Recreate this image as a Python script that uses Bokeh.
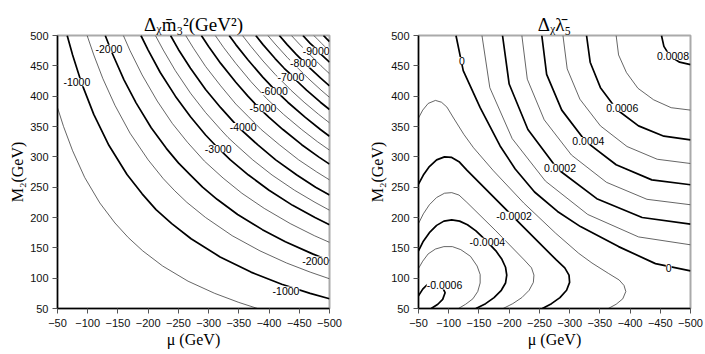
from bokeh.plotting import figure
from bokeh.layouts import row
from bokeh.models import Range1d, FixedTicker, ColumnDataSource
from bokeh.core.properties import value
from bokeh.embed import file_html
from bokeh.resources import INLINE

# ---------------- axes ticks ----------------
mu_ticks = [-50, -100, -150, -200, -250, -300, -350, -400, -450, -500]
m2_ticks = [50, 100, 150, 200, 250, 300, 350, 400, 450, 500]

# ---------------- left panel: contours of Delta_chi m3^2 (GeV^2) ----------------
# levels every -500 GeV^2 ; thick lines at multiples of -1000
m3_0500_mu = [-50, -60, -75, -95, -120, -145, -167, -191, -224, -266, -310, -350, -381]
m3_0500_m2 = [381, 350, 310, 266, 224, 191, 167, 145, 120, 95, 75, 60, 50]
m3_1000_mu = [-66, -75, -90, -110, -135, -165, -190, -213, -239, -271, -319, -370, -421, -468, -500]
m3_1000_m2 = [500, 468, 421, 370, 319, 271, 239, 213, 190, 165, 135, 110, 90, 75, 66]
m3_1500_mu = [-99, -110, -125, -145, -170, -200, -225, -244, -264, -295, -339, -385, -429, -468, -500]
m3_1500_m2 = [500, 468, 429, 385, 339, 295, 264, 244, 225, 200, 170, 145, 125, 110, 99]
m3_2000_mu = [-129, -140, -160, -180, -205, -230, -250, -270, -290, -314, -348, -389, -427, -472, -500]
m3_2000_m2 = [500, 472, 427, 389, 348, 314, 290, 270, 250, 230, 205, 180, 160, 140, 129]
m3_2500_mu = [-159, -170, -190, -215, -240, -265, -293, -324, -355, -392, -435, -475, -500]
m3_2500_m2 = [500, 475, 435, 392, 355, 324, 293, 265, 240, 215, 190, 170, 159]
m3_3000_mu = [-188, -200, -220, -245, -270, -295, -315, -336, -366, -400, -439, -476, -500]
m3_3000_m2 = [500, 476, 439, 400, 366, 336, 315, 295, 270, 245, 220, 200, 188]
m3_3500_mu = [-212, -225, -245, -270, -295, -320, -332, -345, -373, -405, -442, -476, -500]
m3_3500_m2 = [500, 476, 442, 405, 373, 345, 332, 320, 295, 270, 245, 225, 212]
m3_4000_mu = [-237, -250, -270, -295, -320, -349, -381, -411, -446, -477, -500]
m3_4000_m2 = [500, 477, 446, 411, 381, 349, 320, 295, 270, 250, 237]
m3_4500_mu = [-262, -275, -295, -320, -345, -366, -387, -417, -449, -479, -500]
m3_4500_m2 = [500, 479, 449, 417, 387, 366, 345, 320, 295, 275, 262]
m3_5000_mu = [-288, -300, -320, -345, -365, -382, -400, -423, -454, -482, -500]
m3_5000_m2 = [500, 482, 454, 423, 400, 382, 365, 345, 320, 300, 288]
m3_5500_mu = [-311, -325, -345, -370, -396, -424, -454, -480, -500]
m3_5500_m2 = [500, 480, 454, 424, 396, 370, 345, 325, 311]
m3_6000_mu = [-334, -345, -365, -390, -410, -431, -460, -485, -500]
m3_6000_m2 = [500, 485, 460, 431, 410, 390, 365, 345, 334]
m3_6500_mu = [-356, -370, -390, -410, -423, -436, -458, -482, -500]
m3_6500_m2 = [500, 482, 458, 436, 423, 410, 390, 370, 356]
m3_7000_mu = [-378, -390, -410, -425, -436, -446, -462, -485, -500]
m3_7000_m2 = [500, 485, 462, 446, 436, 425, 410, 390, 378]
m3_7500_mu = [-398, -410, -430, -447, -464, -486, -500]
m3_7500_m2 = [500, 486, 464, 447, 430, 410, 398]
m3_8000_mu = [-417, -430, -445, -457, -469, -485, -500]
m3_8000_m2 = [500, 485, 469, 457, 445, 430, 417]
m3_8500_mu = [-437, -450, -468, -486, -500]
m3_8500_m2 = [500, 486, 468, 450, 437]
m3_9000_mu = [-456, -468, -478, -487, -500]
m3_9000_m2 = [500, 487, 478, 468, 456]
m3_9500_mu = [-474, -480, -487, -494, -500]
m3_9500_m2 = [500, 494, 487, 480, 474]
m3_10000_mu = [-490, -495, -500]
m3_10000_m2 = [500, 495, 490]

m3_label_text = ["-1000", "-2000", "-3000", "-4000", "-5000", "-6000", "-7000", "-8000", "-9000", "-2000", "-1000"]
m3_label_mu = [-82, -135, -316, -357, -390, -409, -436, -457, -478, -477, -428]
m3_label_m2 = [423, 478, 313, 349, 380, 408, 431.5, 454, 475, 129, 79.5]

# ---------------- right panel: contours of Delta_chi lambda5 ----------------
# levels every 0.0001 ; thick lines at multiples of 0.0002
l5_p8_mu = [-452, -456, -466, -482, -500]
l5_p8_m2 = [500, 482, 466, 456, 452]
l5_p7_mu = [-377, -381, -394, -413, -439, -468, -500]
l5_p7_m2 = [500, 468, 439, 413, 394, 381, 377]
l5_p6_mu = [-328, -334, -351, -378, -414, -456, -500]
l5_p6_m2 = [500, 456, 414, 378, 351, 334, 328]
l5_p5_mu = [-289, -296, -317, -351, -395, -445, -500]
l5_p5_m2 = [500, 445, 395, 351, 317, 296, 289]
l5_p4_mu = [-254, -262, -287, -326, -377, -436, -500]
l5_p4_m2 = [500, 436, 377, 326, 287, 262, 254]
l5_p3_mu = [-221, -230, -258, -303, -361, -428, -500]
l5_p3_m2 = [500, 428, 361, 303, 258, 230, 221]
l5_p2_mu = [-189, -200, -231, -280, -345, -420, -500]
l5_p2_m2 = [500, 420, 345, 280, 231, 200, 189]
l5_p1_mu = [-155, -168, -205, -260, -330, -414, -500]
l5_p1_m2 = [500, 414, 330, 260, 205, 168, 155]
l5_z_mu = [-112, -124, -152, -185, -210, -242, -280, -318, -381, -442, -500]
l5_z_m2 = [500, 442, 381, 318, 280, 242, 210, 185, 152, 124, 112]
l5_n1_mu = [-50, -57, -66, -78, -88, -97, -108, -125, -141, -174, -224, -277, -315, -337, -364, -382, -390, -393, -388, -377, -364]
l5_n1_m2 = [364, 377, 388, 393, 390, 382, 364, 337, 315, 277, 224, 174, 141, 125, 108, 97, 88, 78, 66, 57, 50]
l5_n2_mu = [-50, -58, -68, -80, -93, -105, -117, -130, -204, -278, -292, -299, -300, -295, -284, -270, -255]
l5_n2_m2 = [255, 270, 284, 295, 300, 299, 292, 278, 204, 130, 117, 105, 93, 80, 68, 58, 50]
l5_n3_mu = [-50, -58, -68, -80, -93, -105, -117, -130, -178, -225, -237, -241, -240, -233, -221, -206, -190]
l5_n3_m2 = [190, 206, 221, 233, 240, 241, 237, 225, 178, 130, 117, 105, 93, 80, 68, 58, 50]
l5_n4_mu = [-50, -58, -68, -80, -92, -105, -118, -131, -145, -162, -178, -188, -194, -196, -194, -187, -175, -161, -145]
l5_n4_m2 = [145, 161, 175, 187, 194, 196, 194, 188, 178, 162, 145, 131, 118, 105, 92, 80, 68, 58, 50]
l5_n5_mu = [-50, -57, -66, -78, -92, -106, -120, -136, -147, -152, -152, -148, -140, -128, -116]
l5_n5_m2 = [116, 128, 140, 148, 152, 152, 147, 136, 120, 106, 92, 78, 66, 57, 50]
l5_n6_mu = [-50, -57, -65, -76, -88, -94, -90, -82, -71]
l5_n6_m2 = [71, 82, 90, 94, 88, 76, 65, 57, 50]

l5_label_text = ["0", "0.0002", "0.0004", "0.0006", "0.0008", "0", "-0.0002", "-0.0004", "-0.0006"]
l5_label_mu = [-122, -284, -331, -387, -471, -464, -208, -164, -93]
l5_label_m2 = [458, 282, 326, 381, 466.5, 117, 203, 160, 88]

# ---------------- drawing ----------------
THICK_W, THIN_W = 1.7, 0.75
THICK_C, THIN_C = "black", "#333333"


def make_fig(title, min_left, min_right, ylab_standoff):
    p = figure(frame_width=272, frame_height=273,
               x_range=Range1d(-50, -500), y_range=Range1d(50, 500),
               output_backend="svg", toolbar_location=None,
               min_border_left=min_left, min_border_right=min_right,
               min_border_top=35, min_border_bottom=46, title=title)
    p.title.align = "center"
    p.title.text_font = "Liberation Serif"
    p.title.text_font_size = "19px"
    p.title.text_font_style = "normal"
    p.title.text_color = "black"
    p.title.standoff = 2
    p.xgrid.visible = False
    p.ygrid.visible = False
    p.background_fill_color = "white"
    p.border_fill_color = "white"
    p.outline_line_color = "#aaaaaa"
    p.outline_line_width = 2
    p.xaxis.ticker = FixedTicker(ticks=mu_ticks)
    p.yaxis.ticker = FixedTicker(ticks=m2_ticks)
    p.xaxis.axis_label = "μ (GeV)"
    p.yaxis.axis_label = "M₂(GeV)"
    for ax in (p.xaxis[0], p.yaxis[0]):
        ax.axis_label_text_font = "Liberation Serif"
        ax.axis_label_text_font_size = "16px"
        ax.axis_label_text_font_style = "normal"
        ax.axis_label_text_color = "black"
        ax.major_label_text_font = "Liberation Sans"
        ax.major_label_text_font_size = "11px"
        ax.major_label_text_color = "#111111"
        ax.axis_line_color = "black"
        ax.axis_line_width = 1.5
        ax.major_tick_out = 5
        ax.major_tick_in = 0
        ax.minor_tick_out = 0
        ax.minor_tick_in = 0
        ax.major_tick_line_color = "#555555"
    p.xaxis.major_label_standoff = 5
    p.xaxis.axis_label_standoff = 1
    p.yaxis.major_label_standoff = 4
    p.yaxis.axis_label_standoff = ylab_standoff
    return p


def draw(p, thick, thin, lab_mu, lab_m2, lab_text):
    p.multi_line(xs=[c[0] for c in thin], ys=[c[1] for c in thin],
                 line_color=THIN_C, line_width=THIN_W)
    p.multi_line(xs=[c[0] for c in thick], ys=[c[1] for c in thick],
                 line_color=THICK_C, line_width=THICK_W)
    src = ColumnDataSource(dict(x=lab_mu, y=lab_m2, t=lab_text))
    p.text(x="x", y="y", text="t", source=src, text_align="center",
           text_baseline="middle", text_font=value("Liberation Sans"),
           text_font_size=value("10.5px"), text_color="black",
           background_fill_color="white")


p1 = make_fig("Δᵪm̄₃²(GeV²)", 57, 35, 1)
draw(p1,
     thick=[(m3_1000_mu, m3_1000_m2), (m3_2000_mu, m3_2000_m2), (m3_3000_mu, m3_3000_m2),
            (m3_4000_mu, m3_4000_m2), (m3_5000_mu, m3_5000_m2), (m3_6000_mu, m3_6000_m2),
            (m3_7000_mu, m3_7000_m2), (m3_8000_mu, m3_8000_m2), (m3_9000_mu, m3_9000_m2),
            (m3_10000_mu, m3_10000_m2)],
     thin=[(m3_0500_mu, m3_0500_m2), (m3_1500_mu, m3_1500_m2), (m3_2500_mu, m3_2500_m2),
           (m3_3500_mu, m3_3500_m2), (m3_4500_mu, m3_4500_m2), (m3_5500_mu, m3_5500_m2),
           (m3_6500_mu, m3_6500_m2), (m3_7500_mu, m3_7500_m2), (m3_8500_mu, m3_8500_m2),
           (m3_9500_mu, m3_9500_m2)],
     lab_mu=m3_label_mu, lab_m2=m3_label_m2, lab_text=m3_label_text)

p2 = make_fig("Δᵪλ̄₅", 54, 15, 2)
draw(p2,
     thick=[(l5_p8_mu, l5_p8_m2), (l5_p6_mu, l5_p6_m2), (l5_p4_mu, l5_p4_m2),
            (l5_p2_mu, l5_p2_m2), (l5_z_mu, l5_z_m2), (l5_n2_mu, l5_n2_m2),
            (l5_n4_mu, l5_n4_m2), (l5_n6_mu, l5_n6_m2)],
     thin=[(l5_p7_mu, l5_p7_m2), (l5_p5_mu, l5_p5_m2), (l5_p3_mu, l5_p3_m2),
           (l5_p1_mu, l5_p1_m2), (l5_n1_mu, l5_n1_m2), (l5_n3_mu, l5_n3_m2),
           (l5_n5_mu, l5_n5_m2)],
     lab_mu=l5_label_mu, lab_m2=l5_label_m2, lab_text=l5_label_text)

layout = row(p1, p2)
open("out.html", "w").write(file_html(layout, INLINE))
